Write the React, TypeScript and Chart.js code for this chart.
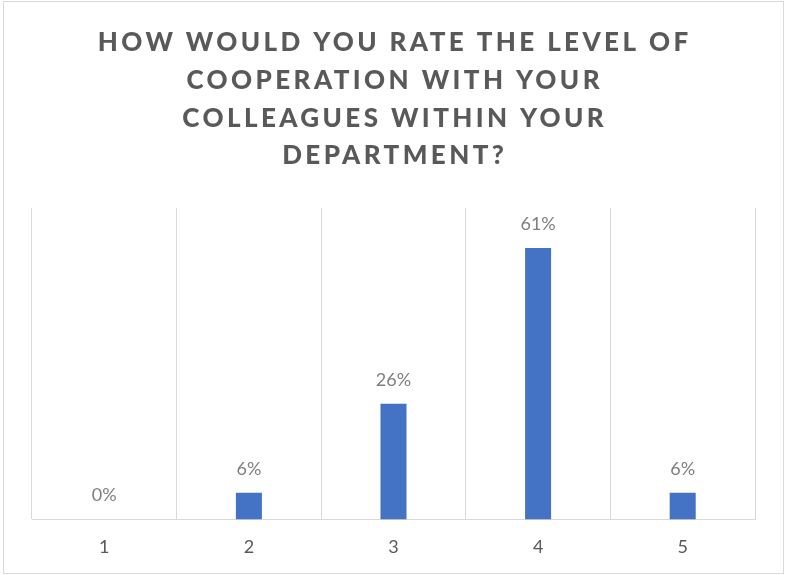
import React, { useEffect, useRef } from 'react';
import { Chart, registerables } from 'chart.js';

Chart.register(...registerables);

const TITLE_LINES = [
  'HOW WOULD YOU RATE THE LEVEL OF',
  'COOPERATION WITH YOUR',
  'COLLEAGUES WITHIN YOUR',
  'DEPARTMENT?',
];
const CATEGORIES = ['1', '2', '3', '4', '5'];
const SHARES = [0, 6, 26, 61, 6];
const Y_MAX = 70;

const framePlugin = {
  id: 'frame',
  beforeDraw(chart: any) {
    const { ctx, width, height } = chart;
    ctx.save();
    ctx.fillStyle = '#ffffff';
    ctx.fillRect(0, 0, width, height);
    ctx.strokeStyle = '#d9d9d9';
    ctx.lineWidth = 1;
    ctx.strokeRect(3.5, 1.5, width - 6, height - 3);
    ctx.restore();
  },
};

const spacedTitlePlugin = {
  id: 'spacedTitle',
  afterDraw(chart: any, _args: any, opts: any) {
    const { ctx, width } = chart;
    const lines: string[] = opts.lines || [];
    ctx.save();
    ctx.font = `${opts.weight} ${opts.size}px ${opts.family}`;
    ctx.fillStyle = opts.color;
    ctx.textAlign = 'center';
    ctx.textBaseline = 'middle';
    (ctx as any).letterSpacing = `${opts.spacing}px`;
    lines.forEach((line, i) => {
      ctx.fillText(line, width / 2 + opts.spacing / 2, opts.top + i * opts.lineHeight);
    });
    ctx.restore();
  },
};

const barLabelPlugin = {
  id: 'barLabels',
  afterDatasetsDraw(chart: any, _args: any, opts: any) {
    const { ctx } = chart;
    const meta = chart.getDatasetMeta(0);
    const data = chart.data.datasets[0].data as number[];
    ctx.save();
    ctx.font = `${opts.size}px ${opts.family}`;
    ctx.fillStyle = opts.color;
    ctx.textAlign = 'center';
    ctx.textBaseline = 'middle';
    meta.data.forEach((el: any, i: number) => {
      ctx.fillText(`${data[i]}%`, el.x, el.y - opts.offset);
    });
    ctx.restore();
  },
};

export default function App() {
  const ref = useRef<HTMLCanvasElement>(null);

  useEffect(() => {
    if (!ref.current) return;
    const chart = new Chart(ref.current, {
      type: 'bar',
      data: {
        labels: CATEGORIES,
        datasets: [
          {
            data: SHARES,
            backgroundColor: '#4472C4',
            barPercentage: 0.18,
            categoryPercentage: 1,
          },
        ],
      },
      options: {
        responsive: false,
        animation: false,
        layout: { padding: { top: 208, left: 32, right: 31, bottom: 0 } },
        scales: {
          x: {
            grid: { color: '#d9d9d9', offset: true, drawTicks: false },
            border: { display: true, color: '#d9d9d9' },
            ticks: {
              color: '#595959',
              padding: 17,
              font: { family: 'Lato', size: 18 },
            },
          },
          y: { display: false, min: 0, max: Y_MAX },
        },
        plugins: {
          legend: { display: false },
          tooltip: { enabled: false },
          title: { display: false },
          spacedTitle: {
            lines: TITLE_LINES,
            size: 26,
            weight: 900,
            family: 'Lato',
            color: '#595959',
            spacing: 3.4,
            top: 43,
            lineHeight: 37.7,
          },
          barLabels: { size: 18, family: 'Lato', color: '#7f7f7f', offset: 24 },
        } as any,
      },
      plugins: [framePlugin, spacedTitlePlugin, barLabelPlugin],
    });
    return () => chart.destroy();
  }, []);

  return (
    <div style={{ position: 'absolute', left: 0, top: 0, width: 786, height: 575 }}>
      <canvas ref={ref} width={786} height={575} style={{ display: 'block' }} />
    </div>
  );
}
